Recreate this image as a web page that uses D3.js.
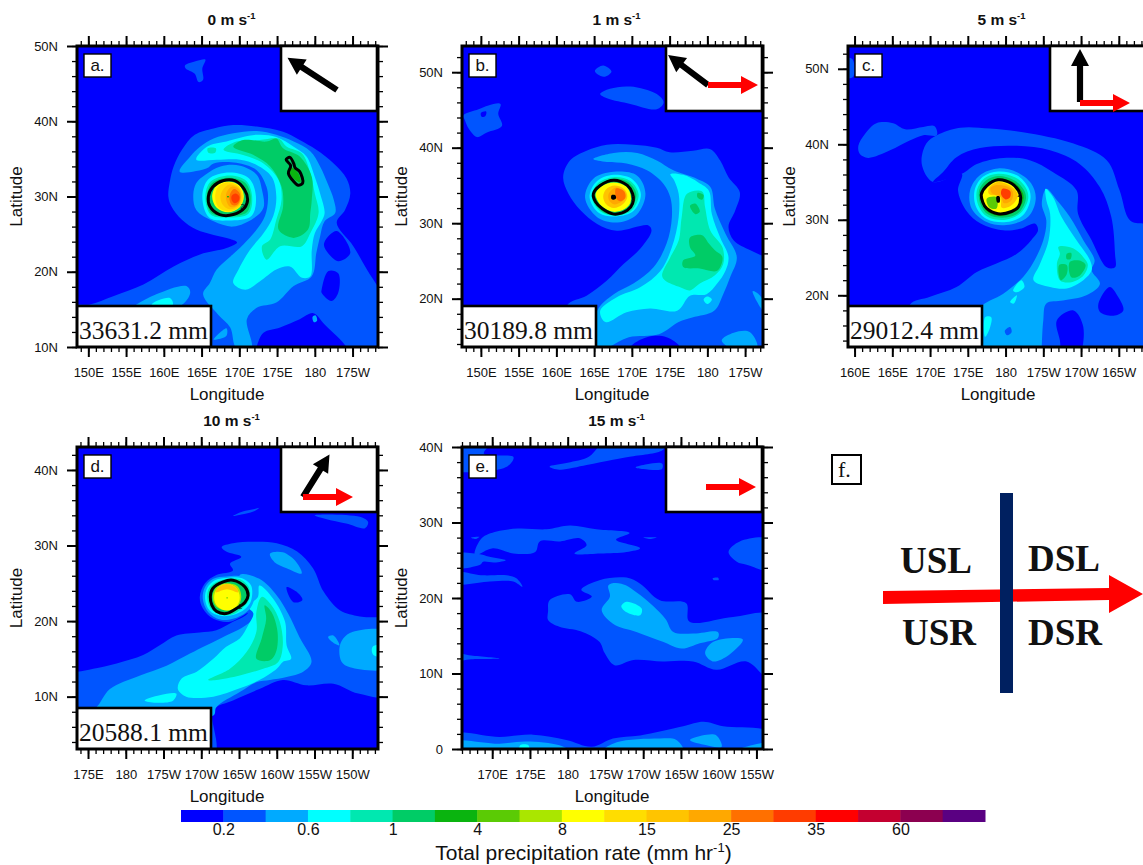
<!DOCTYPE html>
<html>
<head>
<meta charset="utf-8">
<script src="https://cdn.jsdelivr.net/npm/d3@7"></script>
<style>
  body { margin: 0; background: #fff; }
  svg { display: block; }
  text { font-family: "Liberation Sans", sans-serif; fill: #111; }
  .tick text { font: 13px "Liberation Sans", sans-serif; fill: #111; }
  .serif { font-family: "Liberation Serif", serif; }
</style>
</head>
<body>
<div id="chart-area"></div>
<script>
// colour levels of the shading, lowest to highest
const levelColors = ["#0000ff","#0055ff","#00aaff","#00ffff","#00e8b0","#00cc66","#0ab40f","#5bcb05","#aae600",
  "#ffff00","#ffdd00","#ffc400","#ffa800","#ff7000","#ff3c00","#ff0000","#c40030","#8c0050","#5a0082"];
const barLabels = ["0.2","0.6","1","4","8","15","25","35","60"];

const shearSpeeds = [0, 1, 5, 10, 15];
const panelLetters = ["a.", "b.", "c.", "d.", "e."];
const totalRain = ["33631.2 mm", "30189.8 mm", "29012.4 mm", "20588.1 mm", null];
const stormHeading = [303, 307, 0, 32, null];   // black arrows, degrees from north
const shearHeading = [null, 90, 90, 90, 90];    // red arrows

// map window of each panel
const lonMin = [148.5, 147.5, 159.13, 173.54, 166];
const latMin = [10, 13.6, 13.15, 3.07, 0];
const lonSpan = 39.87;
const latSpan = [40, 39.87, 39.87, 39.97, 40];

// filled contours: [level, [[lon, lat], ...]], painted in this order. lon keeps going past 180, level -1 is the black eye
const rainA = [
  [1, [[148,15.4],[150.2,15.65],[153.3,16.75],[157.3,18.3],[161.3,20.7],[164.8,22.3],[168.3,23.15],[169.7,23.9],[168.8,24.35],[166.6,24.9],[164.3,25.6],[162.4,26.9],[161,28.7],[160.6,30],[160.8,32],[161.3,34],[162.4,36.2],[164.1,38.2],[166.6,39.05],[169.2,39.5],[172.3,39.3],[175.8,38.6],[178,37.5],[180.2,36.2],[182.5,34.4],[184.2,32.4],[184.7,30.4],[184,28.2],[182.9,26.5],[185.1,23.4],[186.9,20.3],[188.3,18.1],[189.5,16.3],[189.5,8.8],[148,8.8]]],
  [1, [[162.8,47.4],[164.3,48],[165.5,48.2],[165.1,47],[165.2,45.5],[164.6,45.2],[164.1,46.3],[162.9,47]]],
  [0, [[181.3,24],[182.9,25.4],[184.7,22.5],[183.1,21.4],[181.3,23.2]]],
  [0, [[180.9,17.6],[181.8,20.1],[183.1,19.8],[183.1,17.2],[182.2,16.1],[180.9,17.2]]],
  [0, [[172.3,10.1],[173.2,11.9],[175.4,12.6],[178,13.7],[179.8,14.5],[181.3,13],[184.2,9.9],[184.2,8.8],[171.9,8.8]]],
  [2, [[162.1,33.3],[163.5,35.3],[164.8,36.6],[166.6,37.7],[169.2,38.4],[172.3,38.7],[174.9,38.2],[177.2,37.3],[179.4,36],[180.7,34],[181.8,31.5],[182.5,29.6],[182.7,27.8],[181.3,26.7],[180.7,24.7],[180.2,22.5],[179.6,19.4],[177.2,18.1],[174.9,15.9],[172.3,15.2],[171,13.7],[171.6,9.9],[169.6,9.9],[168.8,12.6],[167.2,14.3],[165.2,17],[166.1,18.5],[167,20.3],[168.8,22],[170.5,23.6],[172.3,25.6],[173.4,27.4],[173.8,29.6],[173.6,31.3],[172.3,33.5],[169.6,34.5],[166.6,34.4],[165.7,33.75]]],
  [2, [[156,15.2],[159,17],[163,18.1],[163.5,17.2],[162.1,15.4]]],
  [2, [[166.6,11],[168.3,12.5],[168.3,11.5],[167,11]]],
  [2, [[179.7,14],[180.1,14.2],[180.3,13.5],[179.9,13.3]]],
  [3, [[158.4,15.65],[160.8,16.5],[161.2,15.6],[159,15]]],
  [3, [[164.3,34.9],[165.7,36.6],[168.3,37.3],[172.3,38.2],[174.9,37.9],[177.2,36.6],[178.9,35.3],[180,32.6],[180.7,30.4],[181.3,27.8],[180.9,26.7],[180,25.1],[179.6,22.9],[179.4,19.4],[178.3,19.2],[176.7,20.7],[174.9,20.3],[172.7,18.7],[170.8,17.6],[169.2,18.5],[169.9,20.3],[171.4,22.9],[173.2,25.1],[174.5,27.4],[174.9,30],[174.3,32.6],[172.3,34.2],[170.1,34.9],[167,34.9]]],
  [4, [[165.8,36.4],[166.9,36.4],[166.8,35.8],[165.9,35.8]]],
  [4, [[167.9,36.2],[169.6,37.3],[172.7,37.5],[175.2,37.7],[176.3,36.6],[178.3,35.7],[179.4,33.1],[180,30.4],[180.5,27.8],[179.4,25.1],[178.3,23.4],[175.4,23.4],[173.6,21.6],[173,23.4],[174.1,24.3],[174.9,26.9],[175.6,29.6],[175.2,32.2],[173.2,34.4],[170.5,35.5]]],
  [5, [[169.2,36.6],[170.5,37.5],[173.6,37.3],[174.9,37.7],[175.8,36.4],[178,35.3],[179.6,32.6],[179.6,29.6],[179.4,27.8],[179.1,25.6],[177.2,24.5],[175.2,25.6],[175.8,28.7],[175.6,31.3],[174.1,34],[171.9,35.5]]],
  [6, [[176.9,33.8],[177.8,33.1],[178.1,31.9],[177.4,32.2],[176.7,33.1]]],
  // core
  [2, [[165.5,32.9],[167.5,34],[170.1,34.1],[172.3,32.9],[173,30.9],[173.2,28.5],[171.9,27.1],[169.2,26],[166.6,26.7],[164.3,28.2],[163.9,30.2],[164.3,31.8]]],
  [3, [[168.7,33.2],[171.3,32.4],[172.2,30],[171.6,27.4],[168.6,26.8],[166,27.2],[165.1,30],[165.9,32.3]]],
  [4, [[168.7,32.8],[170.9,32.1],[171.7,30],[171.2,27.7],[168.6,27.2],[166.2,27.6],[165.5,30],[166.2,32]]],
  [5, [[168.7,32.5],[170.8,31.8],[171.5,30],[171,27.9],[168.6,27.4],[166.3,27.8],[165.7,30],[166.4,31.8]]],
  [9, [[168.5,32],[170,31.5],[170.6,30],[170,28.5],[168.5,27.9],[167,28.5],[166.4,30],[167,31.5]]],
  [10, [[168.4,31.9],[169.9,31.4],[170.5,30],[170,28.6],[168.5,28],[167.2,28.6],[166.8,30],[167.2,31.3]]],
  [11, [[168.7,31.6],[169.9,31.2],[170.3,30],[169.9,28.8],[168.7,28.3],[167.8,28.9],[167.5,30],[167.9,31]]],
  [12, [[169,31.3],[170,30.9],[170.2,29.8],[169.8,28.8],[168.8,28.6],[168.3,29.4],[168.3,30.5]]],
  [13, [[169.3,31],[170,30.5],[170.1,29.6],[169.7,28.9],[169,28.9],[168.7,29.6],[168.8,30.4]]],
  [14, [[169.5,30.4],[170,30],[169.9,29.4],[169.4,29.1],[169,29.5],[169,30.1]]],
  [6, [[168.4,30.05],[168.6,30.05],[168.6,29.9],[168.4,29.9]]]
];
const ringsA = [
  [[166.5,31.3],[167.8,32.1],[169.4,32.1],[170.7,30.9],[171.1,29.6],[170.7,28.5],[169.2,27.6],[167.4,27.6],[166.1,28.7],[165.9,30]],
  [[176.2,34.9],[176.7,35.2],[177.2,34.4],[177.4,33.8],[178,33.3],[178.4,31.8],[177.8,31.5],[177.2,32],[176.5,33.1],[176.8,34.1]]
];

const rainB = [
  [1, [[161.4,19.1],[164,20.4],[166.7,22.4],[168.9,24.6],[171.1,26.6],[172.6,29],[172.2,29.7],[168,29],[165.4,29.9],[163.2,31.7],[161.6,33.9],[160.9,36.1],[161.8,38.3],[164,39.6],[166.7,40.4],[170.2,40.4],[173.3,40],[175,39.4],[178.1,39.6],[180.4,39.8],[181.7,38.3],[182.8,36.1],[184.3,34.1],[183.7,31.7],[182.8,29.5],[183.5,27.7],[185.7,26.4],[187.9,25.5],[189,25.5],[189,12.7],[161.4,12.7]]],
  [1, [[165.1,50.2],[166.2,50.9],[167.3,50.1],[166.4,49.4],[165.5,49.7]]],
  [1, [[165.8,47.1],[167.1,47.8],[169.8,48.1],[173.3,47.1],[174.2,46],[173.3,45.1],[169.8,45.8],[166.8,46.5]]],
  [1, [[147.7,44.3],[149.7,45.1],[151,45.6],[152.6,45.8],[152.3,44.5],[152.8,42.9],[150.8,42],[149.5,41.4],[148.4,42.5],[147.9,43.6]]],
  [0, [[150,44.6],[150.7,44.8],[150.6,44.2],[150.1,44.1]]],
  [0, [[169.8,13.6],[172,14.9],[174.6,14.9],[176.4,13.6],[176.4,12.7],[169.8,12.7]]],
  [2, [[164.9,38.5],[167.6,39.3],[170.7,39.3],[173.3,38.3],[175.5,37],[178.6,35.9],[180.4,34.8],[181,31.9],[182.4,28.6],[183.9,25.5],[183,22.8],[182.1,20.6],[180.9,18.4],[178,17.5],[176.2,16.9],[173.6,15.3],[169.6,14.9],[167,13.6],[165,12.7],[165.4,18.4],[167.6,20.6],[170.2,22],[172.9,24.2],[174.6,27.3],[175.3,30.8],[175.1,33.4],[174.2,35.2],[172,37],[169.3,37.9],[166.7,38.1]]],
  [2, [[186,21],[186.9,20.5],[187.9,18.6],[187.9,17.8],[186.8,19.2]]],
  [2, [[181.9,14.5],[183.5,15.5],[185.6,15.6],[186.6,13.5],[183,13.5]]],
  [3, [[175.1,36.5],[176.8,36.4],[178.8,35.4],[180.2,34.3],[180.6,31.2],[181.7,28.1],[182.8,25.5],[182.4,23.7],[181.3,22],[179.9,20.6],[177.7,20.4],[176,18.4],[172.4,18.7],[169.3,18.2],[166.5,16.9],[165.8,18.4],[168,20.2],[171.1,21.5],[173.8,23.7],[175.3,26.8],[176.2,30.8],[176.2,33.9],[175.6,35.7]]],
  [3, [[179.5,19.9],[180,20.3],[180.6,19.9],[180,19.3]]],
  [4, [[177.3,33.9],[179.3,34.2],[179.7,32.1],[180.4,29],[182,26.8],[182.1,24.6],[181,23.1],[179,22],[177.7,21.1],[176.4,21.5],[174.4,22.4],[174,23.1],[175.1,25.5],[176.2,27.7],[176.6,30.8]]],
  [5, [[177.7,28.1],[179.3,28.4],[180.2,27.3],[181,26.4],[182,25.5],[181.3,23.7],[179,24],[176.8,24.2],[176.8,25.1],[178.4,25.7],[177.7,26.8]]],
  [5, [[177.7,32.3],[178.4,32.6],[179,31.5],[178.4,31.2]]],
  [5, [[178.7,34],[179.5,33.7],[179.3,33.1],[178.7,33.4]]],
  // core
  [2, [[167.6,36.8],[170.7,36.3],[171.8,33.9],[170.7,31.2],[168.1,30.1],[165.4,30.8],[163.8,33.4],[164.9,35.9]]],
  [3, [[167.6,36.4],[170.1,35.8],[171.2,33.8],[170.2,31.6],[168,30.9],[165.7,31.3],[164.4,33.4],[165.3,35.5]]],
  [4, [[167.6,36.1],[169.8,35.6],[170.9,33.8],[170,31.7],[168,31],[165.9,31.5],[164.7,33.4],[165.5,35.3]]],
  [5, [[167.6,35.9],[169.6,35.4],[170.6,33.8],[169.8,32],[167.9,31.1],[166,31.6],[165,33.4],[165.7,35.1]]],
  [9, [[165.2,33.9],[166,34.9],[167.6,35.4],[169.2,34.9],[169.8,33.9],[169.8,32.7],[169.1,31.9],[167.6,31.5],[166.2,32.1],[165.5,32.9]]],
  [11, [[167.7,35],[169,34.5],[169.4,33.5],[168.8,32.5],[167.6,32],[166.6,32.5],[166.2,33.5],[166.6,34.5]]],
  [12, [[167.8,34.7],[168.9,34.3],[169.2,33.5],[168.6,32.8],[167.6,32.5],[167,33],[166.9,33.8]]],
  [13, [[167.9,34.6],[169,34.2],[169.1,33.3],[168.4,32.9],[167.9,33.4]]],
  [-1, [[167.3,33.7],[167.8,33.7],[167.9,33.3],[167.6,33.1],[167.3,33.2]]]
];
const ringsB = [
  [[164.9,33.9],[165.8,35],[167.6,35.7],[169.4,35],[170.1,33.9],[170.1,32.6],[169.4,31.7],[167.6,31.2],[166.1,31.9],[165.2,32.8]]
];

const rainC = [
  [1, [[158.5,51.3],[159.7,51.3],[159.8,48.9],[158.5,48.9]]],
  [1, [[160.5,39.8],[161.4,41.4],[162.9,42.8],[165.1,42.8],[166.7,42],[169.1,42.3],[170.6,42.4],[170.9,41.2],[169.1,41.2],[167.3,40.5],[164.7,39.2],[161.8,38.2],[160.7,38.7]]],
  [1, [[167.3,18.7],[170,19.8],[173.5,21.1],[176.2,23.1],[178.8,24.2],[181.5,25.5],[183.4,27.3],[184.3,28.6],[183.9,29.5],[181.9,28.8],[179.7,28.6],[176.7,29.5],[174.8,31.2],[173.7,33.9],[174.2,36.1],[170.4,35],[168.9,37.4],[169.5,40.1],[170.9,41.2],[174,42.2],[177.9,42.1],[182.3,41.6],[189,40.1],[193.4,37.9],[195.1,33.9],[196.5,29.9],[198.7,29.5],[201,29.5],[201,11.8],[167.3,11.8]]],
  [0, [[170.4,35],[171.7,36.3],[173.5,38.3],[176.6,39.5],[181.5,39.8],[185.9,39.2],[189.8,37.4],[192.5,34.3],[194,30.4],[194.5,25.5],[194.5,23.7],[193.4,23.7],[191.4,27.3],[189.6,30.8],[189.4,33.9],[186.3,36.3],[183.2,37.9],[179.7,38.2],[176.2,37.4],[174.2,36.1]]],
  [0, [[192.3,18.9],[193.8,21.1],[194.9,19.8],[195.6,18],[194.3,17.3],[192.5,17.8]]],
  [0, [[186.8,16.7],[189,18],[190.3,15.8],[189.6,11.8],[187.6,11.8],[187.2,14]]],
  [2, [[185.4,34.1],[186.8,32.6],[188.5,30.4],[190.3,27.3],[191.8,24.6],[191.4,23.3],[192.5,21.5],[190.7,20],[187.6,19.3],[185.4,18.9],[185,16.7],[184.8,13.1],[184.8,11.8],[176.6,11.8],[176.6,18.2],[179.7,20.2],[182.3,22.4],[183.6,24.2],[185,27.3],[185.4,29.9],[184.8,32.1]]],
  [1, [[179.9,15.3],[180.6,15.8],[180.8,15.1],[180.2,14.7]]],
  [3, [[185.3,34.1],[186.3,33],[187.4,30.4],[189.4,27.3],[191.2,24.6],[191.4,23.3],[190.3,22],[188.1,20.9],[185.9,21.1],[183.7,22],[184.5,24],[185.7,27.3],[185.9,30.8],[185.4,32.6]]],
  [3, [[181,20.6],[182.1,22],[182.5,21.1],[181.5,20.4]]],
  [3, [[180.6,19.1],[181.5,20],[181.1,18.9]]],
  [3, [[177.3,17.1],[178.1,17.1],[177.9,15.6],[177.3,14.5]]],
  [4, [[187,26.4],[189,26.2],[190.5,24.8],[190.9,24],[190.3,22.6],[188.5,21.7],[187.2,22],[186.8,24.2],[187.2,25.5]]],
  [5, [[188.5,24.4],[189.8,24.6],[190.6,24],[189.8,22.6],[188.7,22.4]]],
  [5, [[187.1,24],[188.1,24],[188.1,22.8],[187.3,22]]],
  [5, [[188.1,25.5],[188.7,25.6],[188.6,24.8],[188.1,24.8]]],
  // core
  [2, [[179,36.8],[181.5,36.3],[183.4,34.8],[184,32.8],[183,30.4],[180.1,29.3],[177.5,29.7],[175.5,31.5],[175.3,33.9],[176.6,35.9]]],
  [3, [[179,36.4],[181.5,35.9],[183,34.3],[183.3,32.8],[182.3,30.6],[180.1,29.7],[177.5,30.1],[176.1,31.7],[175.9,33.9],[177,35.7]]],
  [4, [[179,36.1],[181.3,35.6],[182.7,34.2],[183,32.8],[182,30.9],[180,30],[177.6,30.4],[176.4,31.9],[176.2,33.9],[177.2,35.5]]],
  [5, [[179,35.8],[181.2,35.2],[182.4,34],[182.7,32.8],[181.8,31],[180,30.3],[177.7,30.7],[176.7,32],[176.5,33.9],[177.4,35.2]]],
  [6, [[179,35.5],[181,35],[182.1,33.9],[182.4,32.9],[181.7,31.4],[179.5,30.5],[177.7,31],[176.9,32.2],[176.7,33.5],[177.5,34.8]]],
  [9, [[176.8,33.4],[177.5,34.5],[179,35.3],[180.8,34.8],[181.7,33.9],[182,33],[181.7,31.7],[180.8,31.1],[179,30.8],[177.5,31.5],[177,32.3]]],
  [7, [[177.5,32.8],[178.8,33],[178.8,31.5],[177.9,31.6]]],
  [11, [[179,35],[180.6,34.5],[181.5,33.6],[181.5,32.8],[180.6,31.8],[179.5,31.6],[179.3,33],[177.8,33.4],[177.8,34.2]]],
  [12, [[179,34.6],[180.6,34.2],[181,33.5],[180.8,32.6],[179.8,32.2],[179.4,33],[178.2,33.5],[178,34.2]]],
  [14, [[179.6,34.1],[180.6,33.8],[180.6,33],[180,32.7],[179.4,33.4]]],
  [-1, [[178.8,33.1],[179.2,33.1],[179.2,32.3],[178.9,32.3]]]
];
const ringsC = [
  [[176.8,33.4],[177.5,34.5],[179,35.3],[180.8,34.8],[181.7,33.9],[182,33],[181.7,31.7],[180.8,31.1],[179,30.8],[177.5,31.5],[177,32.3]]
];

const rainD = [
  [1, [[172,13.3],[173.6,13.3],[175.7,13.7],[178.8,14.4],[182.3,15.5],[184.5,16.8],[186.7,18.1],[189.8,18.5],[192,18.8],[194.2,19.9],[195.8,20.7],[196.2,21.1],[193.8,19.9],[191.6,20.3],[190.2,21.7],[189.8,23.2],[190.5,25],[192,26.1],[194.2,26.7],[193.8,27.6],[195.3,28.5],[193.3,29.2],[192.7,29.8],[194.2,30.3],[196.9,30.5],[200,30.3],[202.7,29.2],[204.8,27],[206.2,23.9],[208.4,21.4],[211,20.6],[215,19.9],[215,10.2],[210.8,10.4],[207.5,11.7],[203.9,11.5],[200.8,12.2],[197.7,11],[194.2,9.5],[191.6,8.2],[191.6,2],[172,2]]],
  [1, [[194.2,33.9],[195.5,34.5],[196.9,34.8],[197.7,35],[196.9,34.5],[195.3,34.1]]],
  [1, [[205,34],[211,33.8],[212.1,33.1],[211.7,32.3],[209.2,32.9],[206.5,33.5]]],
  [0, [[201.3,24.5],[202.6,23.9],[203.4,22.8],[202.2,22.5]]],
  [2, [[199.1,28.9],[200.8,29.1],[202.6,27.8],[203.3,26.3],[201.3,27],[199.7,27.8]]],
  [2, [[208.8,17.7],[210.1,18.6],[215,18.5],[215,13.9],[209.7,13.9],[208.6,14.6],[208.3,16.4]]],
  [2, [[206.8,17.9],[207.5,18.1],[208.3,16.8],[207.7,17]]],
  [3, [[212.7,16.6],[215,16.8],[215,15.3],[212.8,15.5]]],
  [2, [[174.8,8],[176.1,8.6],[177.9,11],[181.9,12.8],[185.4,14.1],[188.5,15.7],[190.7,16.8],[193.3,18.1],[195.5,19.2],[196.9,20.3],[197.5,22.1],[196,22.5],[195.1,26.1],[197.7,25.6],[200,23.4],[201.5,21],[203,17.9],[204.6,14.6],[203.5,13.3],[201.3,12.6],[199.1,12.2],[197.3,11.9],[195.1,10.6],[192,8.6],[191.6,7.5],[174.8,7.5]]],
  [3, [[182.5,9.5],[184.5,10.2],[186.7,10.4],[186.3,9.5],[184,9.2]]],
  [3, [[186.9,11],[187.4,12.4],[189.4,13.3],[191.6,15],[193.3,16.6],[195.1,17.7],[196.2,19.4],[196.9,21],[196.2,21.9],[197.5,23.2],[197.7,24.7],[199.5,23],[201.1,19.9],[201.3,16.8],[201.9,15],[200.8,14.6],[200,13.7],[197.7,12.2],[195.1,11.1],[191.6,10],[188,10]]],
  [4, [[190.9,12.2],[193.8,13.7],[196,15.9],[197.3,18.6],[197.3,21.2],[198,23.2],[199.3,22.1],[200.4,19.9],[200.8,16.8],[200.2,14.6],[198.2,13.7],[195.1,12.8],[192,12.2]]],
  [5, [[197.3,15],[198,17.7],[198.6,20.3],[198.4,22.1],[199.3,21.2],[200.1,18.6],[199.9,15.9],[199.1,14.8]]],
  // core
  [2, [[193.3,25.9],[191.6,25.6],[190.5,24.5],[190.2,23],[190.9,21.2],[192.5,20.2],[194.2,20.3],[196,21.2],[196.9,22.5],[196.9,24.7],[195.5,25.9]]],
  [3, [[193.3,25.7],[191.8,25.4],[190.8,24.4],[190.5,23],[191.1,21.4],[192.5,20.7],[194.2,20.8],[195.8,21.6],[196.6,22.7],[196.6,24.7],[195.3,25.7]]],
  [4, [[193.5,25.6],[191.9,25.1],[191,24.3],[190.8,23],[191.3,21.6],[192.5,20.9],[194.2,20.9],[195.6,21.9],[196.4,23],[196.3,24.5],[195.2,25.5]]],
  [5, [[191.2,23.2],[191.5,24.3],[192.9,25.2],[194.2,25.4],[195.8,24.5],[196.2,23.4],[195.8,22.5],[194.7,21.7],[193.3,21],[192,21.3],[191.4,22.1]]],
  [8, [[193.4,25],[192.1,24.6],[191.5,23.2],[192,21.9],[193.4,21.4],[194.8,21.9],[195.3,23.2],[194.8,24.6]]],
  [9, [[193.4,24.9],[192.2,24.4],[191.7,23.1],[192.2,21.9],[193.4,21.4],[194.6,21.9],[195.1,23.1],[194.6,24.4]]],
  [11, [[193.4,24.9],[192.2,24.4],[191.9,23.8],[193.4,24.2],[194.9,23.8],[194.6,24.4]]],
  [7, [[193.35,23.15],[193.5,23.15],[193.5,23],[193.35,23]]]
];
const ringsD = [
  [[191.2,23.2],[191.5,24.3],[192.9,25.2],[194.2,25.4],[195.8,24.5],[196.2,23.4],[195.8,22.5],[194.7,21.7],[193.3,21],[192,21.3],[191.4,22.1]]
];

const rainE = [
  [1, [[164,40.5],[169.6,40.5],[168.9,39.1],[172.8,38.7],[172.6,38],[171.5,37.2],[164,37.2]]],
  [1, [[177.6,37.4],[180,37.9],[182.8,38.7],[184.8,40.5],[193,40.5],[192.6,39.6],[188.2,38.7],[186,38.3],[182.5,37.6],[178.9,37]]],
  [1, [[189,37.3],[190.5,37.7],[192.5,37.8],[192.5,37.1],[190,37.1]]],
  [1, [[167.7,25.7],[168.6,27.9],[170.6,28.8],[173.4,29.2],[177.2,29.1],[180.3,29.6],[183.8,29.1],[188.2,28.6],[186.4,27.7],[189.6,26.6],[187.8,26.1],[184.3,25.9],[180.9,25.9],[182.5,27],[181.6,27.9],[179,27.5],[176.3,27.5],[175.7,26.1],[172.8,25.9],[170.1,26.6]]],
  [1, [[164,25.7],[168.4,25.8],[169.5,25.5],[171.8,25],[170.3,24.7],[168.8,24.8],[168.4,24.4],[164,24]]],
  [1, [[167.2,28],[168.3,28.1],[167.8,27.8]]],
  [1, [[190,28],[191.8,28],[190.9,27.8]]],
  [1, [[164,23.5],[168.8,23],[171.9,23],[173.2,22.6],[174,21.5],[172.8,22.2],[169.7,22.2],[164,21.9]]],
  [1, [[201.3,26.1],[202.8,27.5],[207,27.7],[207,23.7],[203.7,24.4],[202.4,24.8]]],
  [1, [[199.2,22.6],[199.9,22.7],[200,22.4],[199.3,22.4]]],
  [1, [[177.4,18.2],[177.6,19.7],[180.3,20.5],[181.2,19.5],[183.2,20.2],[181.8,21.1],[184.3,22.4],[187.8,22.7],[189.6,21.9],[192.2,19.7],[195.7,19.3],[196.1,16.9],[201.9,17.5],[207,17.7],[207,9],[203.7,11.6],[199.7,10.5],[196.6,11.6],[192.6,11.6],[188.7,11.8],[186.2,11.1],[184.9,12.7],[184.2,14.2],[181.7,15.6],[178.9,16.2],[177.4,17.1]]],
  [2, [[184.5,18.4],[185.6,20.2],[185.4,21.7],[187.1,21.9],[189.6,20.4],[192.9,17.3],[194,15.5],[196.7,15.3],[199.9,15.5],[199.9,14.7],[197.5,14],[195.1,13.3],[192.6,14.2],[189.1,15.5],[186,16.6]]],
  [3, [[187.1,18.9],[187.8,19.5],[189.8,18.6],[189.6,17.7],[187.8,18.1]]],
  [2, [[198.2,12.7],[199.3,14.2],[203.2,14.5],[201.4,12.5],[199.2,11.6]]],
  [1, [[164,12.8],[167.2,12.4],[171,12],[167.2,11.9],[164,11.6]]],
  [1, [[164,1.9],[171,1.6],[175.4,1.9],[179.8,1.2],[183.2,0.3],[186,1.4],[189.6,1.8],[195.3,3],[198,3.6],[200.6,3],[207,2.1],[207,-1.5],[164,-1.5]]],
  [2, [[164,0.9],[171,0.7],[174.5,1],[178.9,0.5],[180.3,-0.3],[164,-1]]],
  [2, [[184.7,-0.2],[186.5,0.9],[192.2,1.4],[194.4,1.2],[195.3,-0.3]]],
  [2, [[196.2,1.2],[198.4,1.9],[199.7,1.8],[200.4,0.3],[198.4,0.5]]],
  [2, [[202.4,-0.2],[205.7,0.8],[207,0.8],[207,-0.5]]],
  [3, [[173.7,0.5],[174.8,0.5],[174.8,-0.5],[173.7,-0.5]]]
];
const ringsE = [];

const rainFields = [rainA, rainB, rainC, rainD, rainE];
const blackRings = [ringsA, ringsB, ringsC, ringsD, ringsE];
const ringLabels = [[170.4,28.6], [170.2,33.3], [181.8,33.3], [195.2,21.9], null];

// page layout
const canvasWidth = 1143, canvasHeight = 865;
const panelX = [77, 462, 848, 77, 462];
const panelY = [46, 46, 46, 447, 447];
const panelW = 301;
const panelH = [301, 301, 301, 302, 302];
const titleX = [231.5, 616.5, 1001.5, 231.5, 616.5];
const latLabelX = [22, 407, 795, 22, 407];
const insetX = [281, 666, 1050, 281, 666];
const insetW = 96;
const insetH = 65;
const tailX = [337, 708, 1080, 303, 706];
const tailY = [90, 85, 102, 497, 487];
const arrowLen = [59, 50, 53, 50, 50];

const main = d3.select("#chart-area")
    .append("svg")
        .attr("width", canvasWidth)
        .attr("height", canvasHeight);

function lonName(d) {
    if (d == 180) return "180";
    return d < 180 ? d + "E" : (360 - d) + "W";
}
function latName(d) {
    return d == 0 ? "0" : d + "N";
}

// arrow that points up from the tail, turned by heading
function drawArrow(g, x, y, heading, len, color) {
    const shaft = 3.1, headW = 9, headL = 17;
    const outline = [[-shaft,0],[-shaft,-(len-headL)],[-headW,-(len-headL)],[0,-len],[headW,-(len-headL)],[shaft,-(len-headL)],[shaft,0]];
    g.append("path")
        .attr("transform", "translate(" + x + "," + y + ") rotate(" + heading + ")")
        .attr("d", d3.line()(outline) + "Z")
        .attr("fill", color);
}

shearSpeeds.forEach((speed, i) => {
    const g = main.append("g").attr("transform", "translate(" + panelX[i] + "," + panelY[i] + ")");
    const x = d3.scaleLinear().domain([lonMin[i], lonMin[i] + lonSpan]).range([0, panelW]);
    const y = d3.scaleLinear().domain([latMin[i], latMin[i] + latSpan[i]]).range([panelH[i], 0]);
    const contour = d3.line().x(d => x(d[0])).y(d => y(d[1])).curve(d3.curveCatmullRomClosed.alpha(0.5));

    main.append("clipPath").attr("id", "clip" + i)
        .append("rect").attr("width", panelW).attr("height", panelH[i]);

    const map = g.append("g").attr("clip-path", "url(#clip" + i + ")");
    map.append("rect").attr("width", panelW).attr("height", panelH[i]).attr("fill", levelColors[0]);

    map.selectAll("path.rain")
        .data(rainFields[i])
        .enter().append("path")
        .attr("class", "rain")
        .attr("d", d => contour(d[1]))
        .attr("fill", d => d[0] < 0 ? "#000" : levelColors[d[0]]);

    map.selectAll("path.ring")
        .data(blackRings[i])
        .enter().append("path")
        .attr("class", "ring")
        .attr("d", contour)
        .attr("fill", "none")
        .attr("stroke", "#000")
        .attr("stroke-width", 3);

    if (ringLabels[i]) {
        map.append("text")
            .attr("x", x(ringLabels[i][0]))
            .attr("y", y(ringLabels[i][1]))
            .attr("text-anchor", "middle")
            .attr("dy", "0.35em")
            .attr("font-size", 7)
            .text("2");
    }

    // total rainfall box, lower left
    if (totalRain[i]) {
        map.append("rect")
            .attr("x", -3).attr("y", panelH[i] - 41)
            .attr("width", 137).attr("height", 44)
            .attr("fill", "#fff").attr("stroke", "#000").attr("stroke-width", 2.6);
        g.append("text")
            .attr("class", "serif")
            .attr("x", 2).attr("y", panelH[i] - 8)
            .attr("font-size", 25.5)
            .text(totalRain[i]);
    }

    // letter box
    g.append("rect")
        .attr("x", 7).attr("y", 8).attr("width", 27).attr("height", 23)
        .attr("fill", "#fff").attr("stroke", "#000").attr("stroke-width", 1.4);
    g.append("text")
        .attr("x", 20.5).attr("y", 25)
        .attr("text-anchor", "middle")
        .attr("font-size", 17)
        .text(panelLetters[i]);

    // arrow inset, upper right
    main.append("rect")
        .attr("x", insetX[i]).attr("y", panelY[i])
        .attr("width", insetW + (i == 2 ? 40 : 0)).attr("height", insetH)
        .attr("fill", "#fff").attr("stroke", "#000").attr("stroke-width", 2.6);
    if (stormHeading[i] !== null) drawArrow(main, tailX[i], tailY[i], stormHeading[i], arrowLen[i], "#000");
    if (shearHeading[i] !== null) drawArrow(main, tailX[i], tailY[i] + (i == 2 ? 1 : 0), shearHeading[i], 50, "#ff0000");

    // frame
    g.append("rect")
        .attr("width", panelW).attr("height", panelH[i])
        .attr("fill", "none").attr("stroke", "#000").attr("stroke-width", 3);

    // ticks on all four sides
    const lonMajor = d3.range(150, 230, 5).filter(d => d >= lonMin[i] && d <= lonMin[i] + lonSpan);
    const lonMinor = d3.range(145, 230, 1).filter(d => d >= lonMin[i] && d <= lonMin[i] + lonSpan);
    const latMajor = d3.range(0, 60, 10).filter(d => d >= latMin[i] && d <= latMin[i] + latSpan[i]);
    const latMinor = d3.range(0, 60, 2).filter(d => d >= latMin[i] && d <= latMin[i] + latSpan[i]);

    const axes = [
        [d3.axisBottom(x), lonMinor, lonMajor, lonName, "translate(0," + panelH[i] + ")", 11],
        [d3.axisTop(x), lonMinor, lonMajor, null, "", 0],
        [d3.axisLeft(y), latMinor, latMajor, latName, "", 9],
        [d3.axisRight(y), latMinor, latMajor, null, "translate(" + panelW + ",0)", 0]
    ];
    axes.forEach(a => {
        const minor = g.append("g").attr("transform", a[4])
            .call(a[0].tickValues(a[1]).tickSize(5).tickFormat(""));
        minor.select(".domain").remove();
        minor.selectAll(".tick line").attr("stroke-width", 1.3);
        const major = g.append("g").attr("transform", a[4])
            .call(a[0].tickValues(a[2]).tickSize(10).tickPadding(a[5]).tickFormat(a[3] || ""));
        major.select(".domain").remove();
        major.selectAll(".tick line").attr("stroke-width", 2);
    });

    // title and axis names
    const title = main.append("text")
        .attr("x", titleX[i]).attr("y", panelY[i] - 21)
        .attr("text-anchor", "middle")
        .attr("font-size", 15.5)
        .attr("font-weight", "bold");
    title.append("tspan").text(speed + " m s");
    title.append("tspan").attr("dy", -6).attr("font-size", 9.5).text("-1");

    main.append("text")
        .attr("x", panelX[i] + panelW / 2 - 0.5).attr("y", panelY[i] + panelH[i] + 53)
        .attr("text-anchor", "middle")
        .attr("font-size", 17)
        .text("Longitude");
    main.append("text")
        .attr("transform", "translate(" + latLabelX[i] + "," + (panelY[i] + panelH[i] / 2) + ") rotate(-90)")
        .attr("text-anchor", "middle")
        .attr("font-size", 17)
        .text("Latitude");
});

// colour bar
const barX = d3.scaleLinear().domain([0, levelColors.length]).range([181, 985]);
const bar = main.append("g").attr("transform", "translate(0,810)");
bar.selectAll("rect")
    .data(levelColors)
    .enter().append("rect")
    .attr("x", (d, i) => barX(i))
    .attr("width", (d, i) => barX(i + 1) - barX(i) + 0.5)
    .attr("height", 12)
    .attr("fill", d => d);
const barAxis = bar.append("g").attr("transform", "translate(0,12)")
    .call(d3.axisBottom(barX)
        .tickValues(barLabels.map((d, i) => 2 * i + 1))
        .tickFormat((d, i) => barLabels[i])
        .tickSize(0).tickPadding(2));
barAxis.select(".domain").remove();
barAxis.selectAll("text").style("font-size", "16px");

const barTitle = main.append("text")
    .attr("x", 583.5).attr("y", 860)
    .attr("text-anchor", "middle")
    .attr("font-size", 21);
barTitle.append("tspan").text("Total precipitation rate (mm hr");
barTitle.append("tspan").attr("dy", -8).attr("font-size", 13).text("-1");
barTitle.append("tspan").attr("dy", 8).text(")");

// panel f: shear quadrants
main.append("rect")
    .attr("x", 832).attr("y", 455).attr("width", 29).attr("height", 29)
    .attr("fill", "#fff").attr("stroke", "#000").attr("stroke-width", 2);
main.append("text").attr("class", "serif")
    .attr("x", 838).attr("y", 477).attr("font-size", 22).text("f.");

const arrowF = [[883,591],[1109,588],[1109,575],[1143,594],[1109,613],[1109,600],[883,604]];
main.append("path").attr("d", d3.line()(arrowF) + "Z").attr("fill", "#ff0000");
main.append("rect").attr("x", 1000).attr("y", 493).attr("width", 13).attr("height", 200).attr("fill", "#002060");

const quadNames = ["USL", "DSL", "USR", "DSR"];
const quadX = [900, 1028, 902, 1028];
const quadY = [573, 571, 645, 645];
main.selectAll("text.quad")
    .data(quadNames)
    .enter().append("text")
    .attr("class", "quad serif")
    .attr("x", (d, i) => quadX[i])
    .attr("y", (d, i) => quadY[i])
    .attr("font-size", 37)
    .attr("font-weight", "bold")
    .text(d => d);
</script>
</body>
</html>
